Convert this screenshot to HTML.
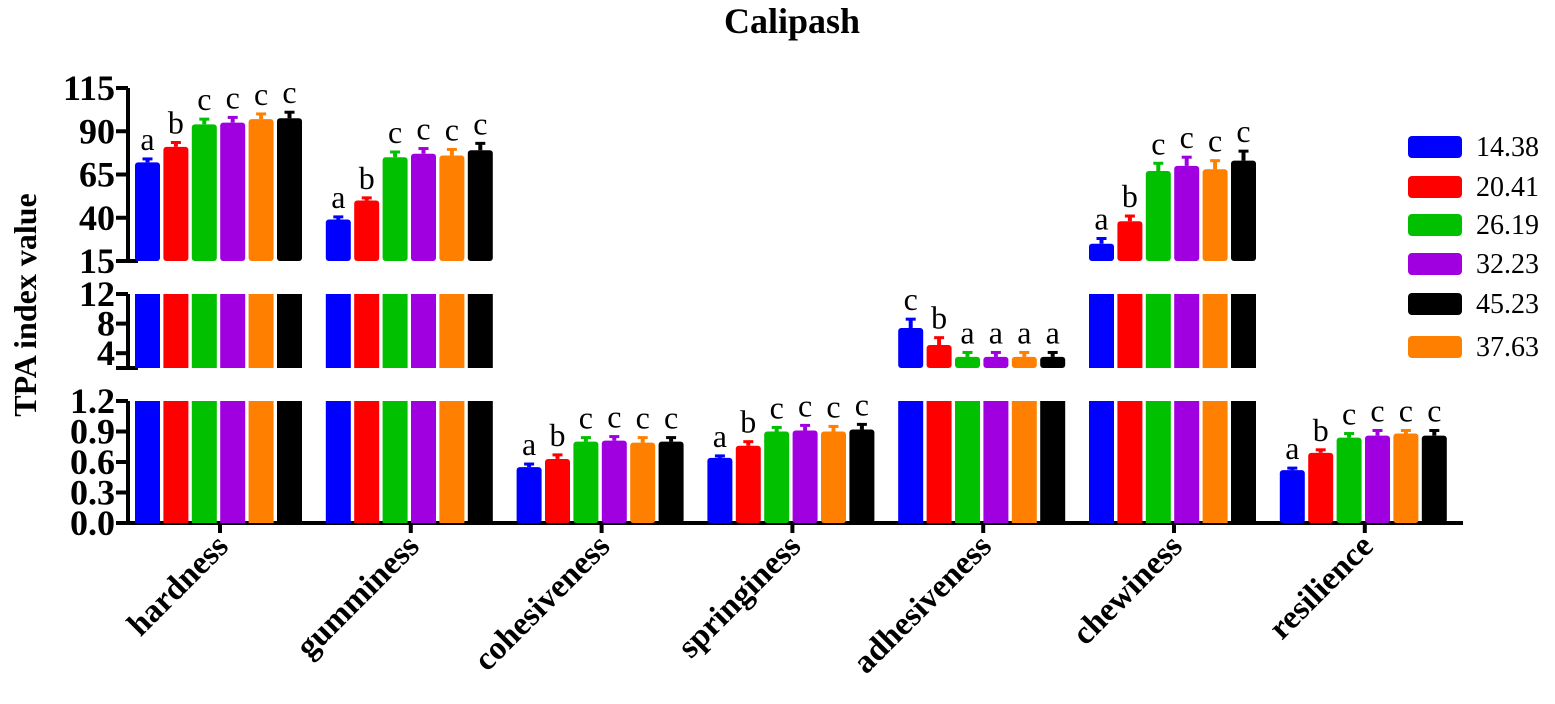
<!DOCTYPE html>
<html><head><meta charset="utf-8"><style>
body{margin:0;background:#fff}
svg{display:block;font-family:"Liberation Serif",serif}
</style></head><body>
<svg id="chart" width="1555" height="704" viewBox="0 0 1555 704">
<text x="792" y="33" font-size="36" font-weight="bold" text-anchor="middle">Calipash</text>
<text transform="translate(36,305) rotate(-90)" font-size="32" font-weight="bold" text-anchor="middle">TPA index value</text>
<g id="axes"></g><g id="bars"></g><g id="legend"></g>
</svg>
<script>
const categories=["hardness","gumminess","cohesiveness","springiness","adhesiveness","chewiness","resilience"];
// series in bar order (left to right within a group)
const seriesNames=["14.38","20.41","26.19","32.23","37.63","45.23"];
const s1=[72,81,94,95,97,97.5];
const s2=[39,50,75,77,76,79];
const s3=[0.55,0.63,0.80,0.81,0.79,0.80];
const s4=[0.64,0.76,0.90,0.91,0.90,0.92];
const s5=[7.4,5.1,3.5,3.5,3.5,3.5];
const s6=[25,38,67,70,68,73];
const s7=[0.52,0.69,0.84,0.86,0.88,0.86];
const errs1=[2,2.5,3,3,3,3.5];
const errs2=[1.5,1.5,3,3,3.5,4];
const errs3=[0.03,0.04,0.04,0.04,0.05,0.04];
const errs4=[0.02,0.04,0.04,0.05,0.05,0.05];
const errs5=[1.2,1,0.6,0.6,0.6,0.6];
const errs6=[3,3,4.5,5,5,5.5];
const errs7=[0.02,0.03,0.04,0.05,0.03,0.05];
const letters1=["a","b","c","c","c","c"];
const letters2=["a","b","c","c","c","c"];
const letters3=["a","b","c","c","c","c"];
const letters4=["a","b","c","c","c","c"];
const letters5=["c","b","a","a","a","a"];
const letters6=["a","b","c","c","c","c"];
const letters7=["a","b","c","c","c","c"];
const ticks1=[15,40,65,90,115];
const ticks2=[4,8,12];
const ticks3=[0.0,0.3,0.6,0.9,1.2];
const legendOrder=[0,1,2,3,5,4];

const values=[s1,s2,s3,s4,s5,s6,s7];
const errs=[errs1,errs2,errs3,errs4,errs5,errs6,errs7];
const letters=[letters1,letters2,letters3,letters4,letters5,letters6,letters7];
const colors=["#0000ff","#ff0000","#00c000","#a000e0","#ff8000","#000000"];
const segs=[{min:0,max:1.2,t:401,b:523,ticks:ticks3,fmt:v=>v.toFixed(1)},
            {min:2,max:12,t:294,b:368,ticks:ticks2,fmt:v=>String(v)},
            {min:15,max:115,t:88,b:261,ticks:ticks1,fmt:v=>String(v)}];
const NS="http://www.w3.org/2000/svg";
function mk(tag,attrs,parent){const e=document.createElementNS(NS,tag);for(const k in attrs)e.setAttribute(k,attrs[k]);parent.appendChild(e);return e;}
function yS(s,v){return s.b-(v-s.min)/(s.max-s.min)*(s.b-s.t);}
const AX=128;
function xC(i){return 220+i*190.8;}
const axes=document.getElementById('axes');
segs.forEach((s,si)=>{
  const l=mk('line',{x1:AX,x2:AX,y1:s.t,y2:s.b,stroke:'#000','stroke-width':4},axes);
  
  
  if(si>0){const bl=mk('line',{x1:AX-12,x2:AX+10,y1:s.b,y2:s.b,stroke:'#000','stroke-width':4},axes);
    
    }
  s.ticks.forEach(v=>{const y=yS(s,v);
    mk('line',{x1:AX-12,x2:AX,y1:y,y2:y,stroke:'#000','stroke-width':4},axes);
    const t=mk('text',{x:AX-13,y:y+12,'font-size':36,'font-weight':'bold','text-anchor':'end'},axes);
    t.textContent=s.fmt(v);
    
    });
});
const xa=mk('line',{x1:AX-2,x2:1463,y1:523,y2:523,stroke:'#000','stroke-width':4},axes);


categories.forEach((c,i)=>{const x=xC(i);
  mk('line',{x1:x,x2:x,y1:523,y2:533,stroke:'#000','stroke-width':4},axes);
  const t=mk('text',{transform:`translate(${x+10},${548}) rotate(-45)`,'font-size':33,'font-weight':'bold','text-anchor':'end'},axes);
  t.textContent=c;
  
  
});
const bars=document.getElementById('bars');
const BW=25,STEP=28.4;
categories.forEach((c,i)=>{
  seriesNames.forEach((n,k)=>{
    const v=values[i][k],e=errs[i][k];
    const x=xC(i)-85+k*STEP;
    let si=segs.findIndex(s=>v<=s.max&&v>=s.min);
    if(si<0)si=0;
    segs.forEach((s,q)=>{
      if(q<si){const r=mk('rect',{x:x,y:s.t,width:BW,height:s.b-s.t,fill:colors[k]},bars);
        
        }
    });
    const s=segs[si],y=yS(s,v),ye=yS(s,v+e);
    const r=mk('rect',{x:x,y:y,width:BW,height:s.b-y,fill:colors[k],rx:3},bars);
    
    
    mk('line',{x1:x+BW/2,x2:x+BW/2,y1:y,y2:ye,stroke:colors[k],'stroke-width':4},bars);
    const cap=mk('line',{x1:x+BW/2-5,x2:x+BW/2+5,y1:ye,y2:ye,stroke:colors[k],'stroke-width':3},bars);
    
    
    const t=mk('text',{x:x+BW/2,y:ye-9,'font-size':32,'text-anchor':'middle'},bars);
    t.textContent=letters[i][k];
    
    
  });
});
const lg=document.getElementById('legend');
const ly=[147,187,225,264,304,347];
legendOrder.forEach((k,p)=>{
  const g=mk('g',{},lg);
  
  
  mk('rect',{x:1408,y:ly[p]-11,width:54,height:22,rx:4,fill:colors[k]},g);
  const t=mk('text',{x:1476,y:ly[p]+9,'font-size':28},g);
  t.textContent=seriesNames[k];
});
</script>
</body></html>
